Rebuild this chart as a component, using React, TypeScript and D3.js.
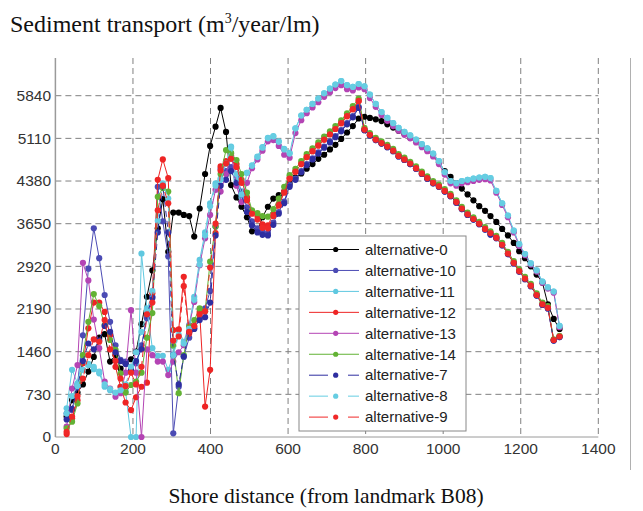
import React from "react";
import * as d3 from "d3";

const distances = [29,43,57,71,85,99,113,127,141,155,168,181,195,208,222,236,250,264,277,291,304,318,331,345,358,372,386,399,413,426,440,453,467,480,494,507,521,534,548,562,576,590,604,
619,634,648,663,678,693,708,722,737,752,767,782,797,811,826,841,856,871,885,900,915,930,945,959,974,989,1004,1019,1034,1048,1063,1078,1093,1108,1122,1137,1152,1167,1182,1196,1211,1226,1241,1256,1270,1285,1300];

const alt0 = [350,630,760,900,1120,1370,1700,1760,1290,1400,1170,1260,1330,1460,1930,2400,2850,3570,4070,3170,3840,3840,3800,3780,3430,3910,4500,4980,5310,5630,5220,4310,4100,3940,3760,3520,3530,3760,3940,4080,4140,4200,4330,
4440,4510,4590,4670,4760,4830,4920,5000,5100,5210,5320,5450,5480,5460,5435,5405,5350,5295,5240,5190,5120,5070,4990,4930,4830,4700,4550,4450,4340,4250,4150,4050,3950,3870,3780,3680,3560,3450,3320,3180,3060,2920,2780,2640,2270,2020,1850];

const alt10 = [400,460,900,1740,2880,3570,3060,2430,1970,1570,1320,1290,1200,1260,1570,2030,2400,4280,3690,3090,63,860,1370,1700,1860,2030,2200,2500,3600,4590,4550,4620,4450,4200,3930,3690,3570,3510,3490,3670,3850,4030,4310,
4420,4550,4670,4770,4870,4970,5060,5150,5250,5370,5490,5650,5250,5160,5080,5020,4960,4890,4800,4740,4670,4590,4500,4420,4340,4280,4200,4120,4010,3900,3800,3720,3640,3550,3460,3410,3280,3130,2970,2830,2700,2580,2420,2260,2200,1650,1710];

const alt11 = [490,1150,920,1390,1230,1160,1090,860,800,750,860,780,0,0,3140,2200,1520,1390,1390,1150,1400,1830,1630,1920,2400,3030,3500,4000,4340,4420,4680,4970,4400,4100,4520,4650,4800,4960,5120,5150,5060,4930,4860,
5280,5500,5600,5700,5790,5880,5960,6030,6090,6020,5990,6040,6000,5860,5700,5560,5460,5370,5290,5220,5160,5090,5010,4940,4850,4720,4530,4380,4340,4380,4400,4420,4440,4450,4430,4210,4000,3790,3530,3300,3130,2970,2850,2660,2560,2490,1900];

const alt12 = [50,320,630,1260,1860,2300,2300,2140,1740,1200,860,590,460,680,860,930,2460,4400,4750,4430,1830,1840,2740,1770,1890,2140,520,1150,3490,4630,4720,4820,4670,4400,4100,3860,3780,3640,3620,3820,3990,4200,4430,
4540,4670,4790,4890,4990,5090,5180,5270,5370,5490,5610,5750,5260,5170,5090,5030,4970,4900,4810,4750,4680,4600,4510,4430,4350,4290,4210,4130,4020,3910,3810,3730,3650,3560,3490,3410,3290,3140,2980,2840,2710,2590,2430,2270,2210,1660,1720];

const alt13 = [180,830,1230,2980,2680,2010,1520,950,830,690,750,1100,2170,1100,0,1500,1400,1290,1290,1060,1290,1450,1570,1900,2310,2940,3400,3800,4230,4200,4500,4850,4300,4020,4350,4600,4750,4900,5060,5080,4980,4830,4780,
5200,5420,5540,5640,5730,5820,5900,5970,6020,5950,5930,5980,5950,5800,5650,5510,5410,5320,5240,5170,5110,5040,4960,4890,4800,4670,4490,4340,4300,4340,4360,4380,4400,4410,4390,4180,3970,3760,3500,3270,3110,2950,2830,2640,2540,2470,1880];

const alt14 = [150,262,575,1400,1970,2445,2240,1915,1660,1490,1090,760,890,950,1100,1700,2120,4110,4260,4200,1560,750,1400,1890,2000,2200,2150,3000,3600,4500,4910,4860,4740,4500,4180,3880,3830,3780,3770,3900,4080,4280,4480,
4590,4720,4840,4940,5040,5140,5230,5320,5420,5540,5660,5790,5290,5200,5120,5060,5000,4930,4840,4780,4710,4630,4540,4460,4380,4320,4240,4160,4050,3940,3840,3760,3680,3590,3520,3440,3320,3170,3010,2870,2740,2620,2460,2300,2240,1670,1730];

const alt7 = [300,480,850,1300,1600,1500,1650,1900,1800,1450,1300,1250,1150,1300,1500,2100,2380,3500,4300,3500,1400,900,1380,1800,1850,2000,2050,2300,3450,4300,4400,4550,4350,4150,3850,3620,3500,3460,3450,3630,3820,4000,4280,
4400,4530,4650,4750,4850,4950,5040,5130,5230,5350,5470,5630,5250,5160,5080,5020,4960,4890,4800,4740,4670,4590,4500,4420,4340,4280,4200,4120,4010,3900,3800,3720,3640,3550,3470,3400,3280,3130,2970,2830,2700,2580,2420,2260,2200,1650,1710];

const alt8 = [400,700,870,1150,1250,1200,1120,900,820,760,800,900,1200,1450,1800,2150,2500,3700,4340,4080,1400,1750,1600,1850,2350,2950,3450,3950,4300,4400,4680,4950,4500,4150,4520,4640,4790,4950,5110,5140,5050,4920,4850,
5280,5500,5600,5700,5790,5880,5960,6030,6090,6020,5990,6040,6000,5860,5700,5560,5460,5370,5290,5220,5160,5090,5010,4940,4850,4720,4530,4380,4340,4380,4400,4420,4440,4450,4430,4210,4000,3790,3530,3300,3130,2970,2850,2660,2560,2490,1900];

const alt9 = [90,350,700,1000,1400,1670,1630,2000,1500,1300,1000,870,1100,900,1200,2100,2300,3880,4300,4000,1650,1720,2580,1800,1900,2100,2150,2900,3650,4560,4680,4760,4620,4350,4050,3820,3720,3580,3570,3780,3960,4180,4420,
4540,4670,4790,4890,4990,5090,5180,5270,5370,5490,5610,5750,5260,5170,5090,5030,4970,4900,4810,4750,4680,4600,4510,4430,4350,4290,4210,4130,4020,3910,3810,3730,3650,3560,3490,3410,3290,3140,2980,2840,2710,2590,2430,2270,2210,1660,1720];

const seriesNames = ["alternative-0","alternative-10","alternative-11","alternative-12","alternative-13","alternative-14","alternative-7","alternative-8","alternative-9"];
const seriesValues = [alt0, alt10, alt11, alt12, alt13, alt14, alt7, alt8, alt9];
const seriesColors = ["#000000","#4b4bb4","#5fc8e0","#ee2424","#b444b4","#62b234","#2e2ea0","#66cde2","#f02828"];
const seriesDashed = [false,false,false,false,false,false,true,true,true];

const xTicks = [0,200,400,600,800,1000,1200,1400];
const yTicks = [0,730,1460,2190,2920,3650,4380,5110,5840];

export default function App() {
  const x = d3.scaleLinear().domain([0, 1400]).range([55.4, 598.3]);
  const y = d3.scaleLinear().domain([0, 5840]).range([437, 95.7]);
  const top = 58;
  const line = d3.line<number>().x((_, i) => x(distances[i])).y((d) => y(d));
  const tickFont = "'Liberation Sans', Arial, sans-serif";
  const serif = "'Liberation Serif', 'Times New Roman', serif";
  const lgX = 299, lgY = 236, lgW = 167, lgH = 195, lgStep = 20.95;
  return (
    <svg width={643} height={511} style={{ position: "absolute", left: 0, top: 0, background: "#fff" }}>
      <rect x={0} y={0} width={643} height={511} fill="#fff" />
      <text x={10} y={32} fontFamily={serif} fontSize={24} fill="#111">
        Sediment transport (m<tspan dy={-9.5} fontSize={14}>3</tspan><tspan dy={9.5}>/year/lm)</tspan>
      </text>
      {xTicks.slice(1).map((t) => (
        <line key={"gx" + t} x1={x(t)} x2={x(t)} y1={top} y2={437} stroke="#808080" strokeDasharray="6,4" strokeWidth={1} />
      ))}
      {yTicks.slice(1).map((t) => (
        <line key={"gy" + t} x1={x(0)} x2={x(1400)} y1={y(t)} y2={y(t)} stroke="#808080" strokeDasharray="6,4" strokeWidth={1} />
      ))}
      <line x1={x(0)} x2={x(0)} y1={top} y2={437} stroke="#9a9a9a" strokeWidth={1.5} />
      <line x1={x(0)} x2={x(1400)} y1={437} y2={437} stroke="#9a9a9a" strokeWidth={1} />
      <line x1={630.5} x2={630.5} y1={top} y2={470} stroke="#b0b0b0" strokeWidth={1} />
      {yTicks.map((t) => (
        <text key={"ty" + t} x={51} y={y(t)} dy="0.35em" textAnchor="end" fontFamily={tickFont} fontSize={15.5} fill="#333">{t}</text>
      ))}
      {xTicks.map((t) => (
        <text key={"tx" + t} x={x(t)} y={454} textAnchor="middle" fontFamily={tickFont} fontSize={15.5} fill="#333">{t}</text>
      ))}
      {seriesValues.map((vals, s) => (
        <g key={"s" + s}>
          <path d={line(vals) || ""} fill="none" stroke={seriesColors[s]} strokeWidth={1} strokeDasharray={seriesDashed[s] ? "6,4" : undefined} />
          {vals.map((v, i) => (
            <circle key={i} cx={x(distances[i])} cy={y(v)} r={3.1} fill={seriesColors[s]} />
          ))}
        </g>
      ))}
      <rect x={lgX} y={lgY} width={lgW} height={lgH} fill="#fff" stroke="#888" strokeWidth={1} />
      {seriesNames.map((n, s) => {
        const yy = lgY + 13.5 + s * lgStep;
        return (
          <g key={"lg" + s}>
            <line x1={309} x2={359} y1={yy} y2={yy} stroke={seriesColors[s]} strokeWidth={1} strokeDasharray={seriesDashed[s] ? "19,20" : undefined} />
            <circle cx={335.7} cy={yy} r={2.6} fill={seriesColors[s]} />
            <text x={365} y={yy} dy="0.35em" fontFamily={tickFont} fontSize={15} fill="#222">{n}</text>
          </g>
        );
      })}
      <text x={326} y={503} textAnchor="middle" fontFamily={serif} fontSize={21.5} fill="#111">Shore distance (from landmark B08)</text>
    </svg>
  );
}
